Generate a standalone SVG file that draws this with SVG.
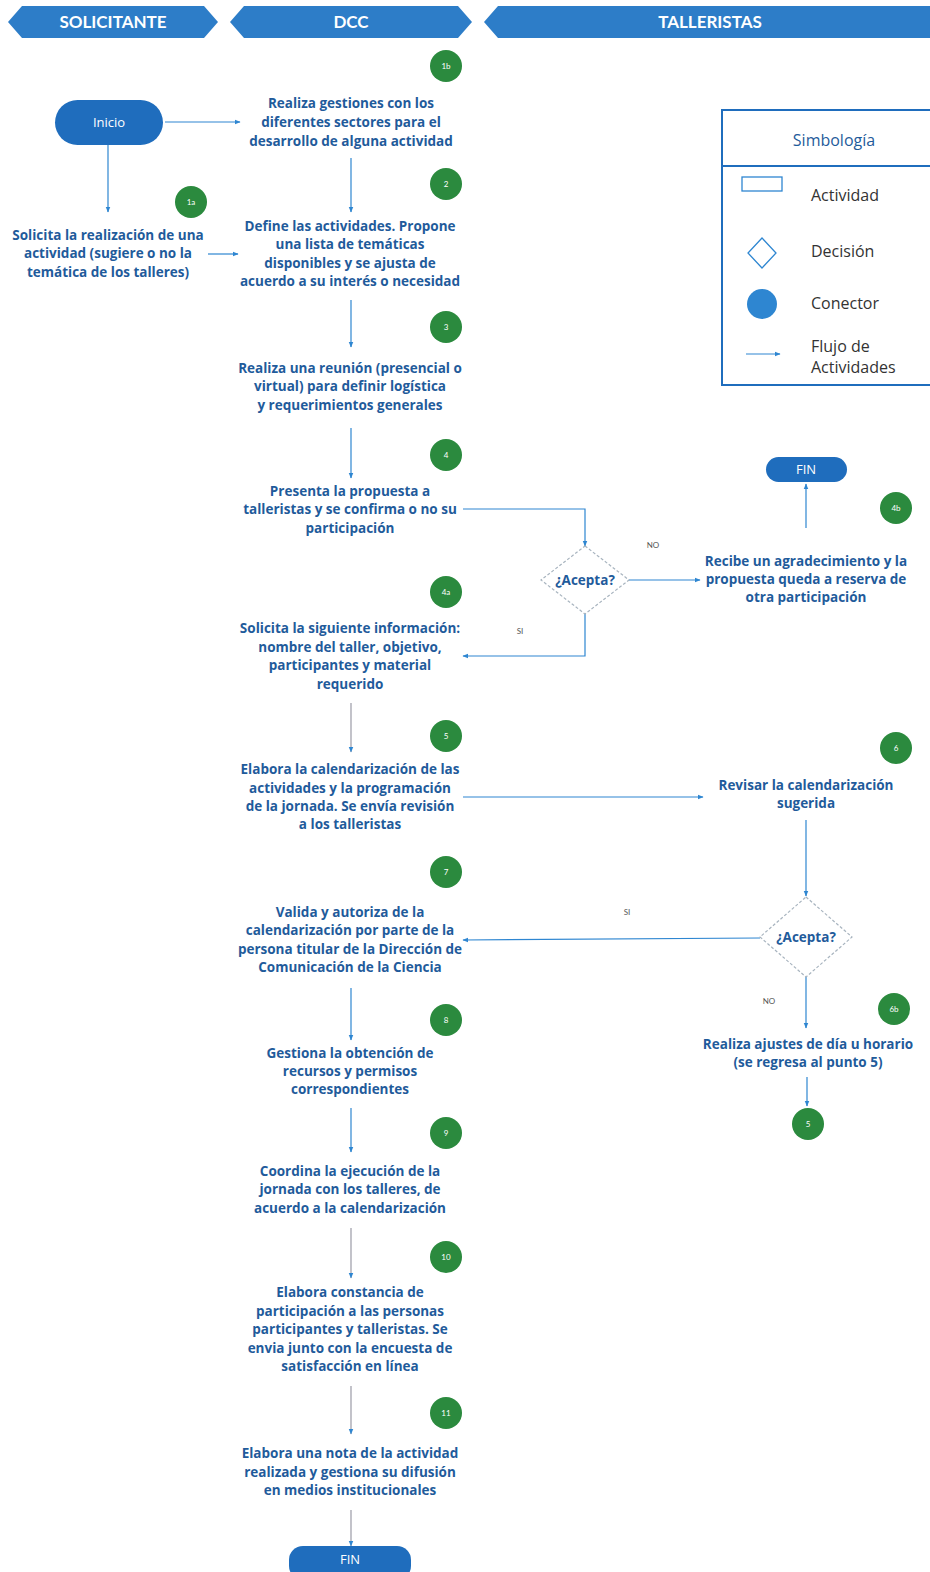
<svg xmlns="http://www.w3.org/2000/svg" width="930" height="1572" viewBox="0 0 930 1572">
<defs>
<marker id="ah" viewBox="0 0 10 10" refX="9" refY="5" markerWidth="5" markerHeight="5" orient="auto"><path d="M0,1 L10,5 L0,9 z" fill="#2e86d1"/></marker>
</defs>
<style>
.hdr{fill:#2d7dc8}
.ht{font-family:Lato,"Liberation Sans",sans-serif;font-weight:bold;font-size:17px;fill:#fff;text-anchor:middle}
.t{font-family:"Open Sans","Liberation Sans",sans-serif;font-weight:bold;font-size:13.5px;fill:#1f5b9b;text-anchor:middle}
.pill{fill:#1f6dbd}
.pt{font-family:"Open Sans","Liberation Sans",sans-serif;font-size:13px;fill:#fff;text-anchor:middle}
.g{fill:#2b8a3e}
.gt{font-family:Lato,"Liberation Sans",sans-serif;font-size:8px;fill:#fff;text-anchor:middle}
.ca{fill:none;stroke:#2e86d1;stroke-width:1.2;marker-end:url(#ah)}
.cg{fill:none;stroke:#9a9aa6;stroke-width:1.2;marker-end:url(#ah)}
.dia{fill:#fff;stroke:#a8b4bf;stroke-width:1.2;stroke-dasharray:3 2}
.lab{font-family:Lato,"Liberation Sans",sans-serif;font-size:8px;fill:#555;text-anchor:middle}
.lg{font-family:"Open Sans","Liberation Sans",sans-serif;font-size:16px;fill:#333}
</style>
<g id="headers">
<polygon class="hdr" points="8,22 22,6 204,6 218,22 204,38 22,38"/>
<text class="ht" x="113" y="28">SOLICITANTE</text>
<polygon class="hdr" points="230,22 244,6 458,6 472,22 458,38 244,38"/>
<text class="ht" x="351" y="28">DCC</text>
<polygon class="hdr" points="484,22 498,6 930,6 930,38 498,38"/>
<text class="ht" x="710" y="28">TALLERISTAS</text>
</g>
<g id="connectors">
<line class="ca" x1="165" y1="122" x2="240" y2="122"/>
<line class="ca" x1="108" y1="145" x2="108" y2="212"/>
<line class="ca" x1="351" y1="158" x2="351" y2="212"/>
<line class="ca" x1="208" y1="254" x2="238" y2="254"/>
<line class="ca" x1="351" y1="300" x2="351" y2="347"/>
<line class="ca" x1="351" y1="428" x2="351" y2="478"/>
<polyline class="ca" points="463,509 585,509 585,546"/>
<line class="ca" x1="629" y1="580" x2="700" y2="580"/>
<line class="ca" x1="806" y1="528" x2="806" y2="484"/>
<polyline class="ca" points="585,614 585,656 463,656"/>
<line class="cg" x1="351" y1="703" x2="351" y2="752"/>
<line class="ca" x1="463" y1="797" x2="703" y2="797"/>
<line class="ca" x1="806" y1="820" x2="806" y2="896"/>
<line class="ca" x1="760" y1="938" x2="463" y2="940"/>
<line class="ca" x1="351" y1="988" x2="351" y2="1040"/>
<line class="ca" x1="806" y1="977" x2="806" y2="1028"/>
<line class="ca" x1="807" y1="1077" x2="807" y2="1106"/>
<line class="ca" x1="351" y1="1108" x2="351" y2="1152"/>
<line class="cg" x1="351" y1="1228" x2="351" y2="1278"/>
<line class="cg" x1="351" y1="1386" x2="351" y2="1434"/>
<line class="cg" x1="351" y1="1510" x2="351" y2="1546"/>
<text class="lab" x="653" y="548">NO</text>
<text class="lab" x="520" y="634">SI</text>
<text class="lab" x="627" y="915">SI</text>
<text class="lab" x="769" y="1004">NO</text>
</g>
<g id="inicio"><rect class="pill" x="55" y="100" width="108" height="45" rx="22.5"/><text class="pt" x="109" y="127">Inicio</text></g>
<g id="n1b">
<circle class="g" cx="446" cy="66" r="16"/><text class="gt" x="446" y="69">1b</text>
<text class="t" x="351" y="108">Realiza gestiones con los</text>
<text class="t" x="351" y="127">diferentes sectores para el</text>
<text class="t" x="351" y="146">desarrollo de alguna actividad</text>
</g>
<g id="n1a">
<circle class="g" cx="191" cy="202" r="16"/><text class="gt" x="191" y="205">1a</text>
<text class="t" x="108" y="240">Solicita la realización de una</text>
<text class="t" x="108" y="258">actividad (sugiere o no la</text>
<text class="t" x="108" y="277">temática de los talleres)</text>
</g>
<g id="n2">
<circle class="g" cx="446" cy="184" r="16"/><text class="gt" x="446" y="187">2</text>
<text class="t" x="350" y="231">Define las actividades. Propone</text>
<text class="t" x="350" y="249">una lista de temáticas</text>
<text class="t" x="350" y="268">disponibles y se ajusta de</text>
<text class="t" x="350" y="286">acuerdo a su interés o necesidad</text>
</g>
<g id="n3">
<circle class="g" cx="446" cy="327" r="16"/><text class="gt" x="446" y="330">3</text>
<text class="t" x="350" y="373">Realiza una reunión (presencial o</text>
<text class="t" x="350" y="391">virtual) para definir logística</text>
<text class="t" x="350" y="410">y  requerimientos generales</text>
</g>
<g id="n4">
<circle class="g" cx="446" cy="455" r="16"/><text class="gt" x="446" y="458">4</text>
<text class="t" x="350" y="496">Presenta la propuesta a</text>
<text class="t" x="350" y="514">talleristas y se confirma o no su</text>
<text class="t" x="350" y="533">participación</text>
</g>
<g id="d1">
<polygon class="dia" points="585,546 629,580 585,614 541,580"/>
<text class="t" x="585" y="585">¿Acepta?</text>
</g>
<g id="n4b">
<circle class="g" cx="896" cy="508" r="16"/><text class="gt" x="896" y="511">4b</text>
<text class="t" x="806" y="566">Recibe un agradecimiento y la</text>
<text class="t" x="806" y="584">propuesta queda a reserva de</text>
<text class="t" x="806" y="602">otra participación</text>
</g>
<g id="fin1"><rect class="pill" x="766" y="457" width="81" height="25" rx="12.5"/><text class="pt" x="806" y="474">FIN</text></g>
<g id="n4a">
<circle class="g" cx="446" cy="592" r="16"/><text class="gt" x="446" y="595">4a</text>
<text class="t" x="350" y="633">Solicita la siguiente información:</text>
<text class="t" x="350" y="652">nombre del taller, objetivo,</text>
<text class="t" x="350" y="670">participantes y material</text>
<text class="t" x="350" y="689">requerido</text>
</g>
<g id="n5">
<circle class="g" cx="446" cy="736" r="16"/><text class="gt" x="446" y="739">5</text>
<text class="t" x="350" y="774">Elabora la calendarización de las</text>
<text class="t" x="350" y="793">actividades  y la programación</text>
<text class="t" x="350" y="811">de la jornada. Se envía  revisión</text>
<text class="t" x="350" y="829">a los talleristas</text>
</g>
<g id="n6">
<circle class="g" cx="896" cy="748" r="16"/><text class="gt" x="896" y="751">6</text>
<text class="t" x="806" y="790">Revisar la calendarización</text>
<text class="t" x="806" y="808">sugerida</text>
</g>
<g id="d2">
<polygon class="dia" points="806,897 852,937 806,977 760,937"/>
<text class="t" x="806" y="942">¿Acepta?</text>
</g>
<g id="n7">
<circle class="g" cx="446" cy="872" r="16"/><text class="gt" x="446" y="875">7</text>
<text class="t" x="350" y="917">Valida y autoriza de la</text>
<text class="t" x="350" y="935">calendarización por parte de la</text>
<text class="t" x="350" y="954">persona titular de la Dirección de</text>
<text class="t" x="350" y="972">Comunicación de la Ciencia</text>
</g>
<g id="n6b">
<circle class="g" cx="894" cy="1009" r="16"/><text class="gt" x="894" y="1012">6b</text>
<text class="t" x="808" y="1049">Realiza ajustes de día u horario</text>
<text class="t" x="808" y="1067">(se regresa al punto 5)</text>
</g>
<g id="c5"><circle class="g" cx="808" cy="1124" r="16"/><text class="gt" x="808" y="1127">5</text></g>
<g id="n8">
<circle class="g" cx="446" cy="1020" r="16"/><text class="gt" x="446" y="1023">8</text>
<text class="t" x="350" y="1058">Gestiona la obtención de</text>
<text class="t" x="350" y="1076">recursos y permisos</text>
<text class="t" x="350" y="1094">correspondientes</text>
</g>
<g id="n9">
<circle class="g" cx="446" cy="1133" r="16"/><text class="gt" x="446" y="1136">9</text>
<text class="t" x="350" y="1176">Coordina la ejecución de la</text>
<text class="t" x="350" y="1194">jornada con los talleres, de</text>
<text class="t" x="350" y="1213">acuerdo a la calendarización</text>
</g>
<g id="n10">
<circle class="g" cx="446" cy="1257" r="16"/><text class="gt" x="446" y="1260">10</text>
<text class="t" x="350" y="1297">Elabora  constancia de</text>
<text class="t" x="350" y="1316">participación a las personas</text>
<text class="t" x="350" y="1334">participantes y talleristas. Se</text>
<text class="t" x="350" y="1353">envia junto con la encuesta de</text>
<text class="t" x="350" y="1371">satisfacción en línea</text>
</g>
<g id="n11">
<circle class="g" cx="446" cy="1413" r="16"/><text class="gt" x="446" y="1416">11</text>
<text class="t" x="350" y="1458">Elabora una nota de la actividad</text>
<text class="t" x="350" y="1477">realizada y gestiona su difusión</text>
<text class="t" x="350" y="1495">en medios institucionales</text>
</g>
<g id="fin2"><rect class="pill" x="289" y="1546" width="122" height="34" rx="14"/><text class="pt" x="350" y="1564">FIN</text></g>
<g id="legend">
<rect x="722" y="110" width="212" height="275" fill="#fff" stroke="#1f6dbd" stroke-width="2"/>
<line x1="722" y1="166" x2="930" y2="166" stroke="#1f6dbd" stroke-width="2"/>
<text class="lg" x="834" y="146" text-anchor="middle" style="fill:#1f5b9b">Simbología</text>
<rect x="742" y="177" width="40" height="14" fill="#fff" stroke="#2e86d1" stroke-width="1.3"/>
<text class="lg" x="811" y="201">Actividad</text>
<polygon points="762,238 776,253 762,268 748,253" fill="#fff" stroke="#2e86d1" stroke-width="1.3"/>
<text class="lg" x="811" y="257">Decisión</text>
<circle cx="762" cy="304" r="15" fill="#2e86d1"/>
<text class="lg" x="811" y="309">Conector</text>
<line class="ca" x1="746" y1="354" x2="780" y2="354"/>
<text class="lg" x="811" y="352">Flujo de</text>
<text class="lg" x="811" y="373">Actividades</text>
</g>
</svg>
